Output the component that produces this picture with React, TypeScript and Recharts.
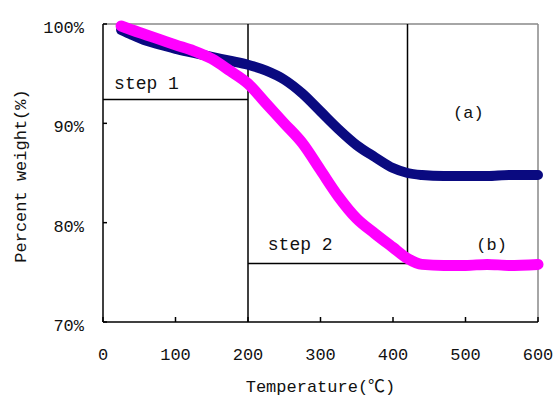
import {
  LineChart,
  Line,
  XAxis,
  YAxis,
  ReferenceLine,
  ReferenceDot,
  Label,
} from 'recharts';

const temps = [25, 40, 60, 80, 100, 125, 150, 175, 200, 225, 250, 275, 300, 325, 350, 375, 400, 420, 440, 470, 500, 530, 560, 600];
const seriesA = [99.4, 98.9, 98.3, 97.9, 97.5, 97.1, 96.7, 96.3, 95.9, 95.3, 94.4, 93.0, 91.2, 89.4, 87.8, 86.6, 85.5, 85.0, 84.8, 84.7, 84.7, 84.7, 84.8, 84.8];
const seriesB = [99.8, 99.4, 98.9, 98.4, 97.9, 97.3, 96.5, 95.3, 94.0, 92.0, 90.0, 88.0, 85.3, 82.6, 80.4, 78.9, 77.5, 76.4, 75.8, 75.7, 75.7, 75.8, 75.7, 75.8];
const xTicks = [0, 100, 200, 300, 400, 500, 600];
const yTicks = [70, 80, 90, 100];
const step1Level = 92.4;
const step2Level = 75.9;
const stepBounds = [0, 200, 420];

const data = temps.map((t, i) => ({ t, a: seriesA[i], b: seriesB[i] }));

const FONT = "'Liberation Mono', 'Noto Sans CJK SC', monospace";
const textStyle = { fontFamily: FONT, fontSize: 17, fill: '#111' };

export default function App() {
  return (
    <div style={{ position: 'absolute', left: 0, top: 0, background: '#fff' }}>
      <LineChart width={555} height={396} data={data} margin={{ top: 24, right: 17, bottom: 0, left: 0 }}>
        <XAxis
          dataKey="t"
          type="number"
          domain={[0, 600]}
          ticks={xTicks}
          height={74}
          stroke="#000"
          strokeWidth={1.5}
          tickSize={-5}
          tickMargin={31}
          tick={textStyle}
        >
          <Label
            content={({ viewBox }: any) => (
              <text x={viewBox.x + viewBox.width / 2} y={392} textAnchor="middle" style={textStyle}>
                Temperature(℃)
              </text>
            )}
          />
        </XAxis>
        <YAxis
          type="number"
          domain={[70, 100]}
          ticks={yTicks}
          width={103}
          stroke="#000"
          strokeWidth={1.5}
          tickSize={-4}
          tickMargin={23}
          tick={{ ...textStyle, dy: 3 }}
          tickFormatter={(v) => `${v}%`}
        >
          <Label
            content={({ viewBox }: any) => {
              const cy = viewBox.y + viewBox.height / 2 + 3;
              return (
                <text x={26} y={cy} textAnchor="middle" transform={`rotate(-90 26 ${cy})`} style={textStyle}>
                  Percent weight(%)
                </text>
              );
            }}
          />
        </YAxis>

        <ReferenceLine y={100} stroke="#888" strokeWidth={1.5} />
        <ReferenceLine x={600} stroke="#888" strokeWidth={1.5} />
        <ReferenceLine x={stepBounds[1]} stroke="#000" strokeWidth={1.5} />
        <ReferenceLine
          segment={[{ x: stepBounds[2], y: step2Level }, { x: stepBounds[2], y: 100 }]}
          stroke="#000"
          strokeWidth={1.5}
        />
        <ReferenceLine
          segment={[{ x: stepBounds[0], y: step1Level }, { x: stepBounds[1], y: step1Level }]}
          stroke="#000"
          strokeWidth={1.5}
        />
        <ReferenceLine
          segment={[{ x: stepBounds[1], y: step2Level }, { x: stepBounds[2], y: step2Level }]}
          stroke="#000"
          strokeWidth={1.5}
        />

        <Line
          dataKey="a"
          type="monotone"
          stroke="#0a0a80"
          strokeWidth={10}
          strokeLinecap="round"
          strokeLinejoin="round"
          dot={false}
          activeDot={false}
          isAnimationActive={false}
        />
        <Line
          dataKey="b"
          type="monotone"
          stroke="#ff00ff"
          strokeWidth={11}
          strokeLinecap="round"
          strokeLinejoin="round"
          dot={false}
          activeDot={false}
          isAnimationActive={false}
        />

        <ReferenceDot x={60} y={94.1} r={0} stroke="none" label={{ value: 'step 1', position: 'center', style: { ...textStyle, fontSize: 18 } }} />
        <ReferenceDot x={272} y={77.9} r={0} stroke="none" label={{ value: 'step 2', position: 'center', style: { ...textStyle, fontSize: 18 } }} />
        <ReferenceDot x={504} y={91.1} r={0} stroke="none" label={{ value: '(a)', position: 'center', style: textStyle }} />
        <ReferenceDot x={536} y={77.9} r={0} stroke="none" label={{ value: '(b)', position: 'center', style: textStyle }} />
      </LineChart>
    </div>
  );
}
